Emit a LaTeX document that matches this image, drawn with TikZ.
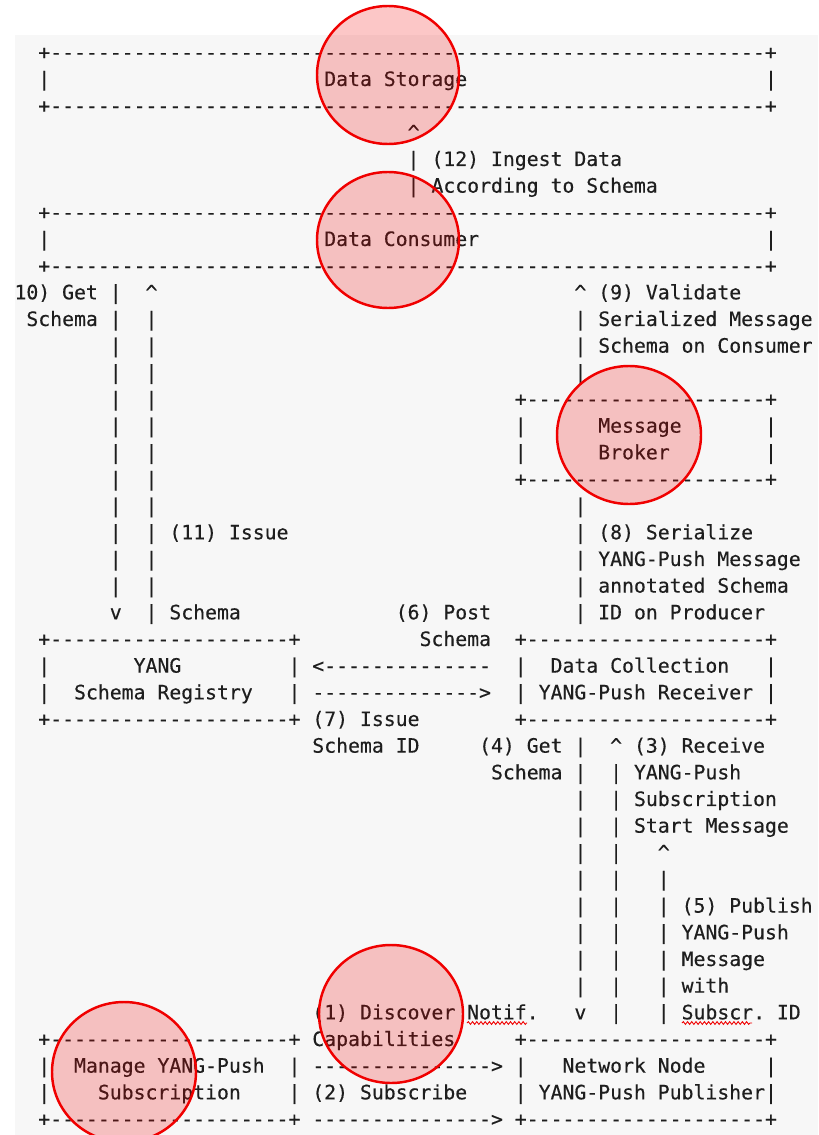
\documentclass[tikz,border=0pt]{standalone}
\usepackage{fontspec}
\setmonofont{DejaVu Sans Mono}[FakeBold=0.35]
\usepackage{xcolor}
\usepackage{tikz}
\usetikzlibrary{decorations.pathmorphing}
\definecolor{RFCPanel}{HTML}{F7F7F7}
\definecolor{RFCInk}{HTML}{1E1E1E}
\definecolor{MarkRed}{HTML}{F00000}

\tikzset{
  ascii/.style={anchor=base west,inner sep=0pt,outer sep=0pt,text=RFCInk,
    font=\ttfamily\fontsize{11.26pt}{13pt}\selectfont\frenchspacing},
  hilite/.style={draw=MarkRed,line width=1.4pt,fill=MarkRed,fill opacity=.22},
  squiggle/.style={MarkRed,line width=.5pt,decorate,
    decoration={snake,amplitude=.8pt,segment length=2.4pt}}
}
% text cell: name, column, row, text
\newcommand{\ascat}[4]{\node[ascii] (#1) at ({2.6+11.913*#2},{59.3+26.667*#3}) {#4};}
\newcommand{\up}{\textasciicircum}

\begin{document}
\begin{tikzpicture}[x=0.02cm,y=-0.02cm]
\path[use as bounding box] (0,0) rectangle (818,1135);
\fill[RFCPanel] (15,35) rectangle (818,1135);

% storage
\ascat{storTop}{3}{0}{+------------------------------------------------------------+}
\ascat{storL}{3}{1}{|}
\ascat{storage}{27}{1}{Data Storage}
\ascat{storR}{64}{1}{|}
\ascat{storBot}{3}{2}{+------------------------------------------------------------+}
\ascat{up12}{34}{3}{\up}
\ascat{bar12a}{34}{4}{|}
\ascat{bar12b}{34}{5}{|}
\ascat{lbl12a}{36}{4}{(12) Ingest Data}
\ascat{lbl12b}{36}{5}{According to Schema}

% consumer
\ascat{consTop}{3}{6}{+------------------------------------------------------------+}
\ascat{consL}{3}{7}{|}
\ascat{consumer}{27}{7}{Data Consumer}
\ascat{consR}{64}{7}{|}
\ascat{consBot}{3}{8}{+------------------------------------------------------------+}

% get / issue schema (left)
\ascat{lbl10a}{1}{9}{10) Get}
\ascat{lbl10b}{2}{10}{Schema}
\foreach \r in {9,...,20} {\ascat{get\r}{9}{\r}{|}}
\ascat{down10}{9}{21}{v}
\ascat{up11}{12}{9}{\up}
\foreach \r in {10,...,21} {\ascat{iss\r}{12}{\r}{|}}
\ascat{lbl11a}{14}{18}{(11) Issue}
\ascat{lbl11b}{14}{21}{Schema}

% validate / serialize (right)
\ascat{up9}{48}{9}{\up}
\foreach \r in {10,11,12,17,18,19,20,21} {\ascat{val\r}{48}{\r}{|}}
\ascat{lbl9a}{50}{9}{(9) Validate}
\ascat{lbl9b}{50}{10}{Serialized Message}
\ascat{lbl9c}{50}{11}{Schema on Consumer}
\ascat{lbl8a}{50}{18}{(8) Serialize}
\ascat{lbl8b}{50}{19}{YANG-Push Message}
\ascat{lbl8c}{50}{20}{annotated Schema}
\ascat{lbl8d}{50}{21}{ID on Producer}

% broker
\ascat{brkTop}{43}{13}{+--------------------+}
\ascat{brkL1}{43}{14}{|}
\ascat{brkL2}{43}{15}{|}
\ascat{broker}{50}{14}{Message}
\ascat{broker2}{50}{15}{Broker}
\ascat{brkR1}{64}{14}{|}
\ascat{brkR2}{64}{15}{|}
\ascat{brkBot}{43}{16}{+--------------------+}

% registry and collector
\ascat{lbl6a}{33}{21}{(6) Post}
\ascat{lbl6b}{35}{22}{Schema}
\ascat{regTop}{3}{22}{+--------------------+}
\ascat{regL1}{3}{23}{|}
\ascat{regL2}{3}{24}{|}
\ascat{registry}{11}{23}{YANG}
\ascat{registry2}{6}{24}{Schema Registry}
\ascat{regR1}{24}{23}{|}
\ascat{regR2}{24}{24}{|}
\ascat{regBot}{3}{25}{+--------------------+}
\ascat{arr6}{26}{23}{<--------------}
\ascat{arr7}{26}{24}{-------------->}
\ascat{lbl7a}{26}{25}{(7) Issue}
\ascat{lbl7b}{26}{26}{Schema ID}
\ascat{colTop}{43}{22}{+--------------------+}
\ascat{colL1}{43}{23}{|}
\ascat{colL2}{43}{24}{|}
\ascat{collector}{46}{23}{Data Collection}
\ascat{collector2}{45}{24}{YANG-Push Receiver}
\ascat{colR1}{64}{23}{|}
\ascat{colR2}{64}{24}{|}
\ascat{colBot}{43}{25}{+--------------------+}

% receive / publish
\ascat{lbl4a}{40}{26}{(4) Get}
\ascat{lbl4b}{41}{27}{Schema}
\foreach \r in {26,...,35} {\ascat{get\r}{48}{\r}{|}}
\ascat{down4}{48}{36}{v}
\ascat{up3}{51}{26}{\up}
\foreach \r in {27,...,36} {\ascat{rcv\r}{51}{\r}{|}}
\ascat{lbl3a}{53}{26}{(3) Receive}
\ascat{lbl3b}{53}{27}{YANG-Push}
\ascat{lbl3c}{53}{28}{Subscription}
\ascat{lbl3d}{53}{29}{Start Message}
\ascat{up5}{55}{30}{\up}
\foreach \r in {31,...,36} {\ascat{pub\r}{55}{\r}{|}}
\ascat{lbl5a}{57}{32}{(5) Publish}
\ascat{lbl5b}{57}{33}{YANG-Push}
\ascat{lbl5c}{57}{34}{Message}
\ascat{lbl5d}{57}{35}{with}
\ascat{lbl5e}{57}{36}{Subscr. ID}

% manager and publisher
\ascat{lbl1a}{26}{36}{(1) Discover Notif.}
\ascat{lbl1b}{26}{37}{Capabilities}
\ascat{manTop}{3}{37}{+--------------------+}
\ascat{manL1}{3}{38}{|}
\ascat{manL2}{3}{39}{|}
\ascat{manager}{6}{38}{Manage YANG-Push}
\ascat{manager2}{8}{39}{Subscription}
\ascat{manR1}{24}{38}{|}
\ascat{manR2}{24}{39}{|}
\ascat{manBot}{3}{40}{+--------------------+}
\ascat{arr1}{26}{38}{--------------->}
\ascat{lbl2}{26}{39}{(2) Subscribe}
\ascat{arr2}{26}{40}{--------------->}
\ascat{pubTop}{43}{37}{+--------------------+}
\ascat{pubL1}{43}{38}{|}
\ascat{pubL2}{43}{39}{|}
\ascat{publisher}{47}{38}{Network Node}
\ascat{publisher2}{45}{39}{YANG-Push Publisher}
\ascat{pubR1}{64}{38}{|}
\ascat{pubR2}{64}{39}{|}
\ascat{pubBot}{43}{40}{+--------------------+}

% spell-check marks
\draw[squiggle] (467,1023) -- (527,1023);
\draw[squiggle] (682,1023) -- (752,1023);

% highlight rings
\path[hilite] (388,75) ellipse [x radius=71,y radius=69];
\path[hilite] (388,240) ellipse [x radius=71,y radius=68];
\path[hilite] (629,435) ellipse [x radius=72,y radius=69];
\path[hilite] (391,1014) ellipse [x radius=72,y radius=69];
\path[hilite] (124,1072) ellipse [x radius=72,y radius=70];
\end{tikzpicture}
\end{document}
